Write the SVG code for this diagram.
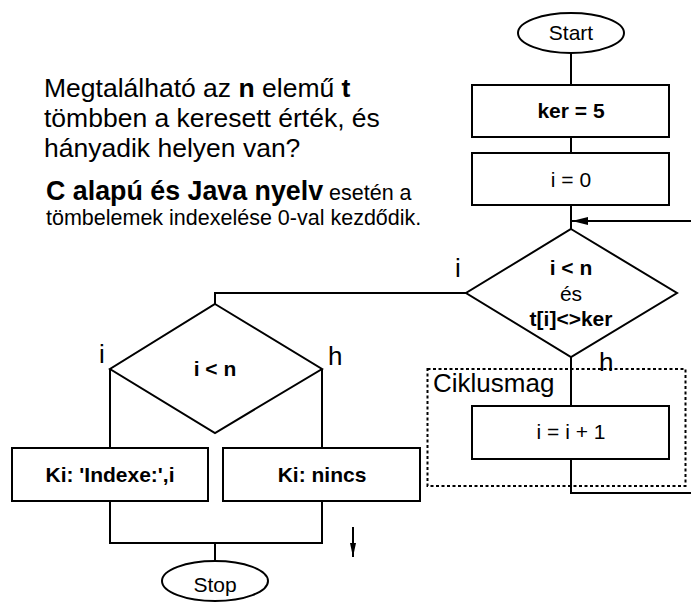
<svg xmlns="http://www.w3.org/2000/svg" width="691" height="602" viewBox="0 0 691 602">
  <defs>
    <style>
      .shape { fill: #ffffff; stroke: #000000; stroke-width: 2; }
      .wire { fill: none; stroke: #000000; stroke-width: 2; }
      .frame { fill: none; stroke: #000000; stroke-width: 2; stroke-dasharray: 3 2.5; }
      text { font-family: "Liberation Sans", Arial, sans-serif; fill: #000000; }
      .node { font-size: 21px; text-anchor: middle; }
      .b { font-weight: bold; }
      .label { font-size: 26px; }
      .title { font-size: 26.5px; }
      .lead { font-size: 26.8px; font-weight: bold; }
      .note { font-size: 21.5px; }
    </style>
    <marker id="arrow" viewBox="0 0 16 8" refX="16" refY="4" markerWidth="16" markerHeight="8" markerUnits="userSpaceOnUse" orient="auto">
      <path d="M0,0 L16,4 L0,8 Z" fill="#000000"/>
    </marker>
    <marker id="arrowSmall" viewBox="0 0 14 6" refX="14" refY="3" markerWidth="14" markerHeight="6" markerUnits="userSpaceOnUse" orient="auto">
      <path d="M0,0 L14,3 L0,6 Z" fill="#000000"/>
    </marker>
  </defs>

  <!-- description text -->
  <text class="title" x="44" y="97">Megtalálható az <tspan class="b">n</tspan> elemű <tspan class="b">t</tspan></text>
  <text class="title" x="44" y="127">tömbben a keresett érték, és</text>
  <text class="title" x="44" y="157">hányadik helyen van?</text>
  <text x="46" y="200"><tspan class="lead">C alapú és Java nyelv</tspan><tspan class="note"> esetén a</tspan></text>
  <text class="note" x="46" y="225">tömbelemek indexelése 0-val kezdődik.</text>

  <!-- connectors -->
  <g id="connectors">
    <line class="wire" x1="571" y1="53" x2="571" y2="85"/>
    <line class="wire" x1="571" y1="137" x2="571" y2="153"/>
    <line class="wire" x1="571" y1="205" x2="571" y2="229"/>
    <line class="wire" x1="691" y1="221" x2="572" y2="221" marker-end="url(#arrow)"/>
    <line class="wire" x1="571" y1="357" x2="571" y2="406"/>
    <polyline class="wire" points="571,459 571,493 691,493"/>
    <polyline class="wire" points="466,293 215,293 215,304"/>
    <line class="wire" x1="110" y1="369" x2="110" y2="448"/>
    <line class="wire" x1="322" y1="369" x2="322" y2="448"/>
    <polyline class="wire" points="110,501 110,543 322,543 322,501"/>
    <line class="wire" x1="215" y1="543" x2="215" y2="561"/>
    <line class="wire" x1="353" y1="527" x2="353" y2="557" stroke-width="1.6" marker-end="url(#arrowSmall)"/>
    <text class="label" x="455" y="277">i</text>
    <text class="label" x="599" y="371">h</text>
    <text class="label" x="99" y="363">i</text>
    <text class="label" x="328" y="365">h</text>
  </g>

  <!-- loop body frame -->
  <g id="loop-body">
    <rect class="frame" x="427.5" y="369" width="258" height="117"/>
    <text class="label" x="433" y="392">Ciklusmag</text>
  </g>

  <g id="start">
    <ellipse class="shape" cx="571" cy="33" rx="53" ry="20"/>
    <text class="node" x="571" y="40">Start</text>
  </g>

  <g id="set-ker">
    <rect class="shape" x="472" y="85" width="197" height="52"/>
    <text class="node b" x="571" y="118">ker = 5</text>
  </g>

  <g id="set-i">
    <rect class="shape" x="472" y="153" width="197" height="52"/>
    <text class="node" x="571" y="187">i = 0</text>
  </g>

  <g id="loop-test">
    <polygon class="shape" points="571,229 677,293 571,357 466,293"/>
    <text class="node b" x="571" y="275">i &lt; n</text>
    <text class="node" x="571" y="301">és</text>
    <text class="node b" x="571" y="326">t[i]&lt;&gt;ker</text>
  </g>

  <g id="increment">
    <rect class="shape" x="472" y="406" width="197" height="53"/>
    <text class="node" x="571" y="439">i = i + 1</text>
  </g>

  <g id="found-test">
    <polygon class="shape" points="215,304 322,369 215,433 110,369"/>
    <text class="node b" x="215" y="376">i &lt; n</text>
  </g>

  <g id="print-index">
    <rect class="shape" x="12" y="448" width="196" height="53"/>
    <text class="node b" x="110" y="482">Ki: 'Indexe:',i</text>
  </g>

  <g id="print-none">
    <rect class="shape" x="223" y="448" width="197" height="53"/>
    <text class="node b" x="322" y="482">Ki: nincs</text>
  </g>

  <g id="stop">
    <ellipse class="shape" cx="215" cy="581" rx="53" ry="20"/>
    <text class="node" x="215" y="592">Stop</text>
  </g>
</svg>
